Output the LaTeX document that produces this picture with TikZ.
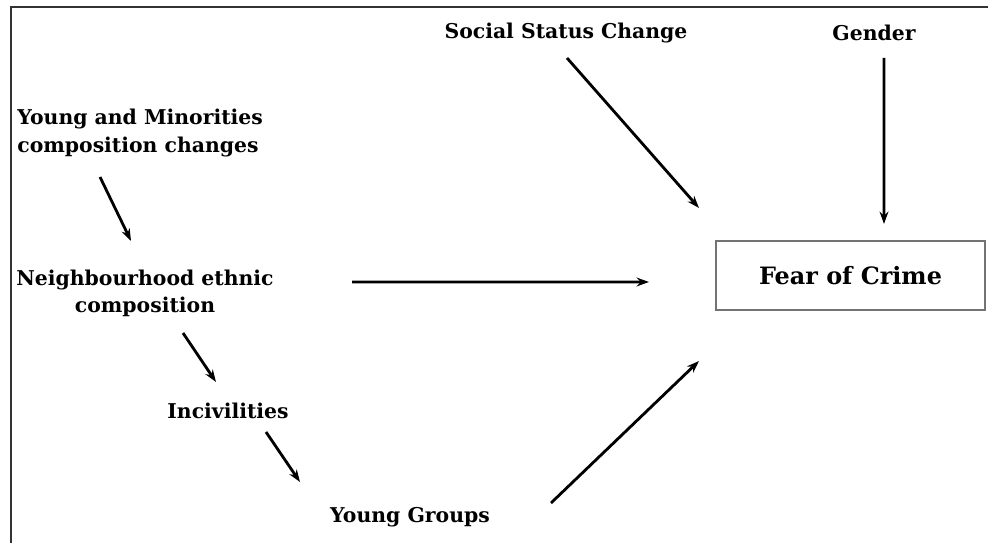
\documentclass[tikz,border=0pt]{standalone}
\usepackage{fontspec}
\setmainfont{DejaVu Serif}
\usetikzlibrary{arrows.meta,calc}
\tikzset{>={Stealth[length=7pt,width=5pt]}}

\begin{document}
\begin{tikzpicture}[x=0.02cm,y=-0.02cm,
    lbl/.style={inner sep=0,font=\fontsize{11.6}{15.5}\selectfont\bfseries},
    arr/.style={->,line width=1.6pt}]
    \useasboundingbox (0,0) rectangle (988,543);
    \draw [black!80,line width=1.4pt] (11,543) -- (11,7) -- (988,7);
    \node[lbl] (ssc) at (566,33) {Social Status Change};
    \node[lbl] (gender) at (874,33) {Gender};
    \node[lbl,anchor=west,align=left] (yamc) at (17,133) {Young and Minorities\\composition changes};
    \node[lbl,align=center] (neigh) at (145,293) {Neighbourhood ethnic\\composition};
    \node[lbl] (inc) at (228,411) {Incivilities};
    \node[lbl] (yg) at (410,517) {Young Groups};
    \node[draw=black!55,line width=1.2pt,minimum width=5.38cm,minimum height=1.38cm,font=\fontsize{13.6}{15}\selectfont\bfseries] (fear) at (850.5,275.5) {Fear of Crime};
    \draw [arr] ($(yamc.west)+(83,44)$) -- ($(neigh)+(-14,-52)$);
    \draw [arr] ($(neigh)+(38,40)$) -- ($(inc)+(-12,-29)$);
    \draw [arr] ($(inc)+(38,21)$) -- ($(yg)+(-110,-35)$);
    \draw [arr] ($(neigh)+(207,-11)$) -- ($(fear.west)+(-66,6.5)$);
    \draw [arr] ($(ssc)+(1,25)$) -- ($(fear.north west)+(-16,-32)$);
    \draw [arr] ($(gender)+(10,25)$) -- ($(fear.north)+(33.5,-16)$);
    \draw [arr] ($(yg)+(141,-14)$) -- ($(fear.south west)+(-16,50)$);
\end{tikzpicture}
\end{document}
